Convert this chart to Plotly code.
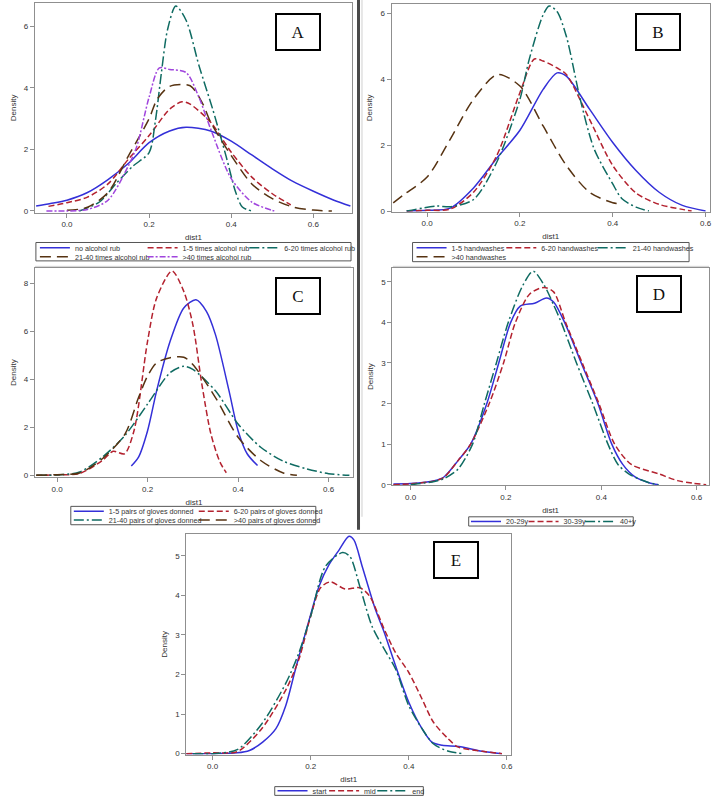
import plotly.graph_objects as go

W, H = 722, 812

# ---------------- data ----------------
# Panel A : alcohol rub
A_names = ["no alcohol rub", "1-5 times alcohol rub", "6-20 times alcohol rub",
           "21-40 times alcohol rub", ">40 times alcohol rub"]
A_x_no = [-0.075, -0.04, 0.0, 0.05, 0.1, 0.15, 0.2, 0.25, 0.29, 0.35, 0.4, 0.45, 0.5, 0.55, 0.6, 0.65, 0.69]
A_y_no = [0.16, 0.24, 0.35, 0.6, 1.02, 1.55, 2.22, 2.6, 2.72, 2.6, 2.27, 1.82, 1.37, 0.96, 0.64, 0.35, 0.16]
A_x_1_5 = [-0.045, 0.0, 0.05, 0.1, 0.15, 0.2, 0.25, 0.28, 0.3, 0.35, 0.4, 0.45, 0.5, 0.545]
A_y_1_5 = [0.15, 0.27, 0.45, 0.88, 1.69, 2.45, 3.31, 3.55, 3.47, 2.88, 1.91, 1.1, 0.56, 0.2]
A_x_6_20 = [0.03, 0.08, 0.12, 0.16, 0.2, 0.215, 0.23, 0.245, 0.265, 0.29, 0.322, 0.355, 0.387, 0.411, 0.427, 0.45]
A_y_6_20 = [0.0, 0.3, 0.9, 1.45, 1.9, 2.9, 4.5, 5.9, 6.66, 6.2, 4.7, 3.3, 1.8, 0.6, 0.13, 0.0]
A_x_21_40 = [0.0, 0.05, 0.1, 0.15, 0.2, 0.22, 0.25, 0.3, 0.33, 0.35, 0.4, 0.45, 0.5, 0.55, 0.6, 0.645]
A_y_21_40 = [0.02, 0.12, 0.6, 1.8, 3.0, 3.64, 4.05, 4.07, 3.5, 2.88, 1.8, 0.88, 0.4, 0.13, 0.03, 0.0]
A_x_gt40 = [-0.05, 0.0, 0.05, 0.1, 0.15, 0.17, 0.2, 0.225, 0.25, 0.29, 0.32, 0.35, 0.4, 0.45, 0.5, 0.51]
A_y_gt40 = [0.0, 0.0, 0.05, 0.35, 1.48, 2.1, 3.7, 4.65, 4.6, 4.5, 3.74, 2.66, 1.05, 0.29, 0.02, 0.0]

# Panel B : handwashes
B_names = ["1-5 handwashes", "6-20 handwashes", "21-40 handwashes", ">40 handwashes"]
B_x_1_5 = [-0.044, 0.0, 0.05, 0.1, 0.15, 0.2, 0.25, 0.28, 0.3, 0.35, 0.4, 0.45, 0.5, 0.55, 0.6]
B_y_1_5 = [0.0, 0.02, 0.09, 0.7, 1.6, 2.45, 3.69, 4.19, 4.09, 3.09, 2.08, 1.23, 0.57, 0.17, 0.0]
B_x_6_20 = [-0.044, 0.0, 0.05, 0.1, 0.15, 0.2, 0.231, 0.25, 0.28, 0.3, 0.35, 0.4, 0.45, 0.5, 0.55, 0.57]
B_y_6_20 = [0.0, 0.02, 0.06, 0.57, 1.68, 3.59, 4.61, 4.55, 4.34, 4.14, 2.78, 1.38, 0.55, 0.2, 0.05, 0.0]
B_x_21_40 = [-0.044, 0.02, 0.05, 0.1, 0.15, 0.2, 0.22, 0.25, 0.263, 0.28, 0.3, 0.33, 0.36, 0.4, 0.42, 0.45, 0.478]
B_y_21_40 = [0.0, 0.15, 0.13, 0.35, 1.48, 3.39, 4.6, 5.95, 6.22, 6.05, 5.3, 3.39, 1.88, 0.82, 0.37, 0.12, 0.0]
B_x_gt40 = [-0.073, -0.05, 0.0, 0.05, 0.1, 0.152, 0.2, 0.25, 0.3, 0.35, 0.4, 0.42]
B_y_gt40 = [0.25, 0.5, 1.03, 2.18, 3.39, 4.14, 3.79, 2.58, 1.38, 0.57, 0.25, 0.22]

# Panel C : gloves donned
C_names = ["1-5 pairs of gloves donned", "6-20 pairs of gloves donned",
           "21-40 pairs of gloves donned", ">40 pairs of gloves donned"]
C_x_1_5 = [0.164, 0.18, 0.2, 0.22, 0.25, 0.28, 0.307, 0.33, 0.35, 0.38, 0.4, 0.42, 0.443]
C_y_1_5 = [0.39, 0.76, 1.86, 3.52, 5.59, 6.97, 7.31, 6.83, 5.86, 3.52, 1.86, 0.9, 0.41]
C_x_6_20 = [-0.046, 0.0, 0.05, 0.1, 0.124, 0.149, 0.17, 0.2, 0.22, 0.254, 0.28, 0.3, 0.32, 0.34, 0.36, 0.374]
C_y_6_20 = [0.0, 0.02, 0.08, 0.62, 1.0, 0.9, 1.86, 5.59, 7.38, 8.51, 7.66, 6.28, 3.79, 1.72, 0.55, 0.11]
C_x_21_40 = [-0.046, 0.0, 0.05, 0.1, 0.15, 0.2, 0.25, 0.28, 0.3, 0.35, 0.4, 0.45, 0.5, 0.55, 0.6, 0.646]
C_y_21_40 = [0.0, 0.02, 0.14, 0.76, 1.66, 2.97, 4.28, 4.54, 4.41, 3.52, 2.14, 1.17, 0.59, 0.28, 0.07, 0.0]
C_x_gt40 = [-0.046, 0.0, 0.05, 0.1, 0.15, 0.18, 0.2, 0.22, 0.25, 0.28, 0.3, 0.35, 0.4, 0.45, 0.5, 0.53]
C_y_gt40 = [0.0, 0.03, 0.1, 0.69, 1.72, 3.24, 4.14, 4.69, 4.9, 4.92, 4.62, 3.24, 1.59, 0.62, 0.1, 0.0]

# Panel D : age
D_names = ["20-29y", "30-39y", "40+y"]
D_x_20 = [-0.036, 0.0, 0.05, 0.07, 0.1, 0.126, 0.16, 0.185, 0.21, 0.23, 0.26, 0.285, 0.3, 0.323, 0.358, 0.393, 0.422, 0.445, 0.47, 0.5, 0.52]
D_y_20 = [0.02, 0.03, 0.1, 0.19, 0.6, 1.0, 2.0, 3.0, 4.0, 4.4, 4.47, 4.6, 4.5, 4.0, 3.0, 2.0, 1.0, 0.5, 0.2, 0.05, 0.0]
D_x_30 = [-0.036, 0.0, 0.05, 0.07, 0.1, 0.126, 0.165, 0.195, 0.22, 0.25, 0.28, 0.3, 0.325, 0.36, 0.395, 0.428, 0.463, 0.52, 0.56, 0.59, 0.62]
D_y_30 = [0.0, 0.02, 0.09, 0.18, 0.6, 1.0, 2.0, 3.0, 4.0, 4.7, 4.86, 4.75, 4.0, 3.0, 2.0, 1.0, 0.5, 0.27, 0.1, 0.04, 0.0]
D_x_40 = [0.0, 0.05, 0.07, 0.1, 0.13, 0.155, 0.18, 0.205, 0.235, 0.257, 0.28, 0.3, 0.316, 0.348, 0.382, 0.414, 0.435, 0.46, 0.5, 0.52]
D_y_40 = [0.0, 0.08, 0.15, 0.39, 1.0, 2.0, 3.0, 4.0, 4.9, 5.26, 4.92, 4.43, 4.0, 3.0, 2.0, 1.0, 0.5, 0.25, 0.05, 0.0]

# Panel E : time of shift
E_names = ["start", "mid", "end"]
E_x_start = [-0.054, 0.0, 0.05, 0.075, 0.102, 0.129, 0.149, 0.169, 0.197, 0.217, 0.237, 0.258, 0.278, 0.288, 0.305, 0.332, 0.35, 0.373, 0.4, 0.427, 0.447, 0.468, 0.502, 0.549, 0.59]
E_y_start = [0.0, 0.0, 0.02, 0.08, 0.29, 0.63, 1.21, 2.14, 3.39, 4.23, 4.77, 5.15, 5.49, 5.4, 4.73, 3.64, 3.06, 2.22, 1.3, 0.63, 0.29, 0.21, 0.18, 0.06, 0.0]
E_x_mid = [-0.054, 0.0, 0.05, 0.1, 0.15, 0.176, 0.2, 0.22, 0.24, 0.27, 0.3, 0.32, 0.35, 0.373, 0.4, 0.427, 0.45, 0.48, 0.5, 0.55, 0.59]
E_y_mid = [0.0, 0.02, 0.05, 0.63, 1.63, 2.39, 3.48, 4.19, 4.34, 4.16, 4.19, 3.98, 3.14, 2.55, 2.05, 1.38, 0.8, 0.38, 0.17, 0.06, 0.0]
E_x_end = [-0.04, 0.0, 0.05, 0.1, 0.15, 0.176, 0.2, 0.23, 0.265, 0.28, 0.3, 0.325, 0.35, 0.373, 0.4, 0.427, 0.45, 0.481, 0.512]
E_y_end = [0.0, 0.0, 0.1, 0.75, 1.8, 2.55, 3.48, 4.73, 5.08, 4.98, 4.23, 3.22, 2.64, 2.14, 1.21, 0.63, 0.25, 0.06, 0.0]

x_ticks = [0.0, 0.2, 0.4, 0.6]

# ---------------- styles ----------------
BLUE, RED, TEAL, BROWN, PURPLE = "#3430d8", "#b3222f", "#0f6b62", "#573312", "#a045dd"
S_SOLID = dict(color=BLUE, dash="solid")
S_RED = dict(color=RED, dash="6px,3px")
S_TEAL = dict(color=TEAL, dash="10px,3px,2px,3px")
S_BROWN = dict(color=BROWN, dash="11px,6px")
S_PURPLE = dict(color=PURPLE, dash="6px,2px,2px,2px")

SANS = "Liberation Sans, Arial, sans-serif"
TXT = "#333333"
LW = 1.5


def px(x):
    return x / W


def py(y):
    return 1 - y / H


fig = go.Figure()
legend_defs = {}
_leg_count = [0]


def add(xs, ys, name, style, axis_n, line_start_px, row_center_px):
    _leg_count[0] += 1
    k = _leg_count[0]
    lid = "legend" if k == 1 else f"legend{k}"
    legend_defs[lid] = dict(x=px(line_start_px - 5), y=py(row_center_px), xanchor="left", yanchor="middle",
                            orientation="h", bgcolor="rgba(0,0,0,0)", borderwidth=0,
                            font=dict(family=SANS, size=7.2, color=TXT), itemwidth=30,
                            itemclick=False, itemdoubleclick=False)
    fig.add_trace(go.Scatter(
        x=xs, y=ys, name=name, mode="lines",
        line=dict(width=LW, shape="spline", smoothing=0.8, **style),
        xaxis="x" if axis_n == 1 else f"x{axis_n}",
        yaxis="y" if axis_n == 1 else f"y{axis_n}",
        legend=lid, hoverinfo="skip"))


# Panel A
add(A_x_no, A_y_no, A_names[0], S_SOLID, 1, 40, 249.3)
add(A_x_1_5, A_y_1_5, A_names[1], S_RED, 1, 148, 249.3)
add(A_x_6_20, A_y_6_20, A_names[2], S_TEAL, 1, 250, 249.3)
add(A_x_21_40, A_y_21_40, A_names[3], S_BROWN, 1, 40, 258.3)
add(A_x_gt40, A_y_gt40, A_names[4], S_PURPLE, 1, 148, 258.3)
# Panel B
add(B_x_1_5, B_y_1_5, B_names[0], S_SOLID, 2, 417.7, 249.3)
add(B_x_6_20, B_y_6_20, B_names[1], S_RED, 2, 507.7, 249.3)
add(B_x_21_40, B_y_21_40, B_names[2], S_TEAL, 2, 599.3, 249.3)
add(B_x_gt40, B_y_gt40, B_names[3], S_BROWN, 2, 417.7, 258.3)
# Panel C
add(C_x_1_5, C_y_1_5, C_names[0], S_SOLID, 3, 74, 514.3)
add(C_x_6_20, C_y_6_20, C_names[1], S_RED, 3, 199.3, 514.3)
add(C_x_21_40, C_y_21_40, C_names[2], S_TEAL, 3, 74, 523.3)
add(C_x_gt40, C_y_gt40, C_names[3], S_BROWN, 3, 199.3, 523.3)
# Panel D
add(D_x_20, D_y_20, D_names[0], S_SOLID, 4, 472.3, 524.7)
add(D_x_30, D_y_30, D_names[1], S_RED, 4, 530, 524.7)
add(D_x_40, D_y_40, D_names[2], S_TEAL, 4, 586.7, 524.7)
# Panel E
add(E_x_start, E_y_start, E_names[0], S_SOLID, 5, 278.3, 795.7)
add(E_x_mid, E_y_mid, E_names[1], S_RED, 5, 330, 795.7)
add(E_x_end, E_y_end, E_names[2], S_TEAL, 5, 378.3, 795.7)

# panel geometry in pixels: (x0, x1, ytop, ybottom, xrange, yrange, yticks)
panels = {
    1: (35, 353, 3, 214, [-0.078, 0.694], [-0.055, 6.76], [0, 2, 4, 6]),
    2: (392.7, 711.7, 4, 213, [-0.0765, 0.609], [-0.02, 6.28], [0, 2, 4, 6]),
    3: (35, 354, 270, 480, [-0.049, 0.654], [-0.07, 8.62], [0, 2, 4, 6, 8]),
    4: (393.3, 711, 270, 488, [-0.0385, 0.626], [-0.007, 5.33], [0, 1, 2, 3, 4, 5]),
    5: (186.7, 512.7, 537.3, 759.3, [-0.054, 0.609], [-0.025, 5.55], [0, 1, 2, 3, 4, 5]),
}

lay = {}
for n, (x0, x1, yt, yb, xr, yr, yt_vals) in panels.items():
    xa = "xaxis" if n == 1 else f"xaxis{n}"
    ya = "yaxis" if n == 1 else f"yaxis{n}"
    common = dict(showgrid=False, zeroline=False, showline=True, mirror=True,
                  linecolor="#8f8f8f", linewidth=1, ticks="outside", ticklen=4,
                  tickcolor="#8f8f8f", tickfont=dict(family=SANS, size=8, color=TXT))
    lay[xa] = dict(domain=[px(x0), px(x1)], range=xr, anchor="y" if n == 1 else f"y{n}",
                   tickvals=x_ticks, tickformat=".1f",
                   title=dict(text="dist1", font=dict(family=SANS, size=8, color=TXT), standoff=6),
                   **common)
    lay[ya] = dict(domain=[py(yb), py(yt)], range=yr, anchor="x" if n == 1 else f"x{n}",
                   tickvals=yt_vals,
                   title=dict(text="Density", font=dict(family=SANS, size=8, color=TXT), standoff=6),
                   **common)

shapes = []


def rect(x0, y0, x1, y1, color="#555555", width=1):
    shapes.append(dict(type="rect", xref="paper", yref="paper",
                       x0=px(x0), x1=px(x1), y0=py(y1), y1=py(y0),
                       line=dict(color=color, width=width), fillcolor="rgba(0,0,0,0)", layer="above"))


def line(x0, y0, x1, y1, color, width):
    shapes.append(dict(type="line", xref="paper", yref="paper",
                       x0=px(x0), x1=px(x1), y0=py(y0), y1=py(y1),
                       line=dict(color=color, width=width)))


# legend frames
rect(36, 244, 352, 262.5)
rect(413.7, 244, 691, 263.3)
rect(71, 509.5, 316.7, 528)
rect(470, 520, 635, 529.3)
rect(275.5, 791.5, 424.5, 800.3)
# separators / image borders
line(359.5, 0, 359.5, 533, "#4a4a4a", 3)
line(363, 0, 363, 520, "#cfcfcf", 1)
line(35, 268, 352, 268, "#cfcfcf", 1)
line(394, 268, 711, 268, "#cfcfcf", 1)

# panel letters
annotations = []
for letter, cx, cy in [("A", 299.2, 31.9), ("B", 659.5, 32.2), ("C", 298.8, 297.9),
                       ("D", 660.7, 295.8), ("E", 456.9, 563.3)]:
    annotations.append(dict(text=letter, x=px(cx), y=py(cy), xref="paper", yref="paper",
                            xanchor="center", yanchor="middle", showarrow=False,
                            width=42, height=34, borderpad=0, borderwidth=2,
                            bordercolor="#000000", bgcolor="#ffffff",
                            font=dict(family="Liberation Serif, Times New Roman, serif", size=17, color="#111111")))

fig.update_layout(width=W, height=H, margin=dict(l=0, r=0, t=0, b=0),
                  paper_bgcolor="white", plot_bgcolor="white",
                  shapes=shapes, annotations=annotations, showlegend=True,
                  **lay, **legend_defs)

fig.write_html("out.html", config={"displayModeBar": False, "staticPlot": True},
               post_script="document.body.style.margin='0';document.body.style.overflow='hidden';")
